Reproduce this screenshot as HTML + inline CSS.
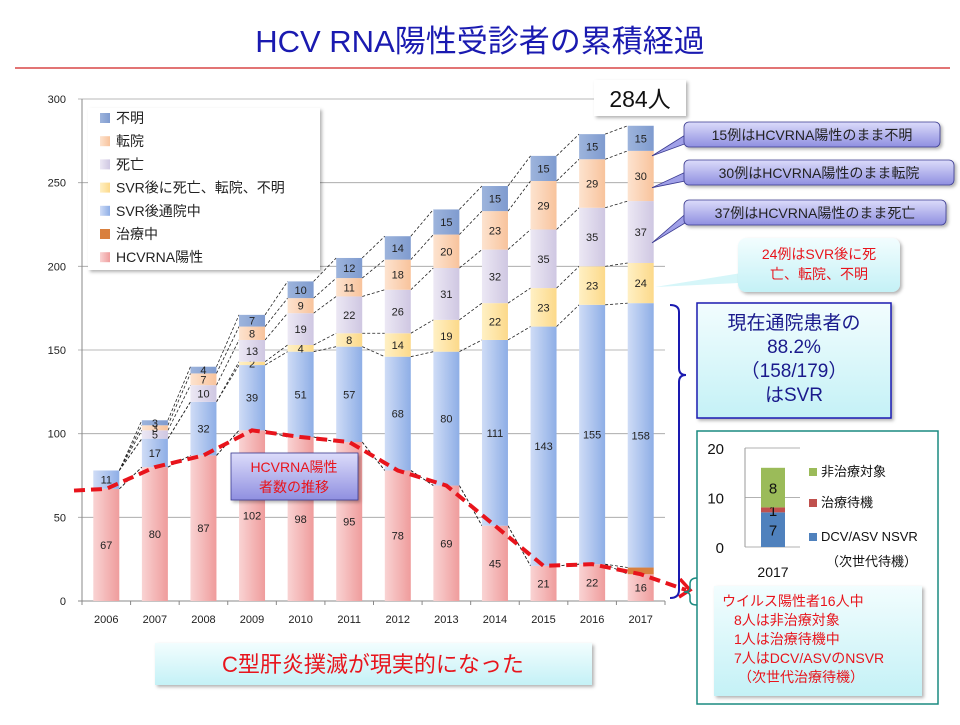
<!DOCTYPE html>
<html><head><meta charset="utf-8"><style>
body{margin:0;background:#fff;}
svg text{font-family:"Liberation Sans","Noto Sans CJK JP",sans-serif;}
</style></head><body>
<svg id="s" width="960" height="720" viewBox="0 0 960 720" xmlns="http://www.w3.org/2000/svg">
<defs>
<linearGradient id="gH" x1="0" x2="1"><stop offset="0" stop-color="#f9d3d3"/><stop offset="1" stop-color="#ef9c9c"/></linearGradient>
<linearGradient id="gS" x1="0" x2="1"><stop offset="0" stop-color="#cfdcf6"/><stop offset="1" stop-color="#8eaee6"/></linearGradient>
<linearGradient id="gY" x1="0" x2="1"><stop offset="0" stop-color="#fff0c4"/><stop offset="1" stop-color="#fcd98a"/></linearGradient>
<linearGradient id="gD" x1="0" x2="1"><stop offset="0" stop-color="#ece8f4"/><stop offset="1" stop-color="#cfc7e2"/></linearGradient>
<linearGradient id="gT" x1="0" x2="1"><stop offset="0" stop-color="#fde3cf"/><stop offset="1" stop-color="#f8c39c"/></linearGradient>
<linearGradient id="gU" x1="0" x2="1"><stop offset="0" stop-color="#9db4dc"/><stop offset="1" stop-color="#7f9bcf"/></linearGradient>
<linearGradient id="gP" x1="0" y1="0" x2="0" y2="1"><stop offset="0" stop-color="#dcdcfa"/><stop offset="1" stop-color="#8f8fe0"/></linearGradient>
<linearGradient id="gC" x1="0" y1="0" x2="0" y2="1"><stop offset="0" stop-color="#f2fdfe"/><stop offset="1" stop-color="#c4f1f6"/></linearGradient>
<filter id="sh" x="-10%" y="-10%" width="130%" height="140%"><feDropShadow dx="2" dy="2" stdDeviation="1.5" flood-opacity="0.3"/></filter>
</defs>
<text x="480" y="52" text-anchor="middle" font-size="31" fill="#1a1ab0">HCV RNA陽性受診者の累積経過</text>
<line x1="15" y1="68" x2="950" y2="68" stroke="#d02020" stroke-width="1.2"/>
<g id="chart"></g>
</svg>
<script>
const years=["2006","2007","2008","2009","2010","2011","2012","2013","2014","2015","2016","2017"];
const hcv=[67,80,87,102,98,95,78,69,45,21,22,16];
const treat=[0,0,0,0,0,0,0,0,0,0,0,4];
const svr=[11,17,32,39,51,57,68,80,111,143,155,158];
const svrOut=[0,0,0,2,4,8,14,19,22,23,23,24];
const death=[0,5,10,13,19,22,26,31,32,35,35,37];
const transfer=[0,3,7,8,9,11,18,20,23,29,29,30];
const unknown=[0,3,4,7,10,12,14,15,15,15,15,15];
const yTicks=[0,50,100,150,200,250,300];
const insetVals=[7,1,8];
const insetTicks=[0,10,20];

const NS="http://www.w3.org/2000/svg";
const svg=document.getElementById('s');
const chart=document.getElementById('chart');
function mk(tag,attrs,parent,txt){const e=document.createElementNS(NS,tag);for(const k in attrs)e.setAttribute(k,attrs[k]);if(txt!==undefined)e.textContent=txt;(parent||svg).appendChild(e);return e;}
const X0=82,X1=665,Y0=601,Y1=99;
const step=(X1-X0)/years.length;
const xc=i=>X0+step*(i+0.5);
const y=v=>Y0-(v/300)*(Y0-Y1);
const BW=26;

yTicks.forEach(t=>{
  if(t>0){const g=mk('line',{x1:X0-4,x2:X1,y1:y(t),y2:y(t),stroke:'#a0a0a0','stroke-width':0.8},chart);
  
  }
  const tl=mk('text',{x:66,y:y(t)+4,'text-anchor':'end','font-size':11,fill:'#222'},chart,t);
  
  
});
mk('line',{x1:X0,x2:X0,y1:Y1,y2:Y0,stroke:'#888'},chart);
const xa=mk('line',{x1:X0-4,x2:X1,y1:Y0,y2:Y0,stroke:'#888'},chart);


years.forEach((yr,i)=>{
  mk('line',{x1:X0+step*i,x2:X0+step*i,y1:Y0,y2:Y0+4,stroke:'#888'},chart);
  const t=mk('text',{x:xc(i),y:Y0+22,'text-anchor':'middle','font-size':11,fill:'#222'},chart,yr);
  
  
});
mk('line',{x1:X1,x2:X1,y1:Y0,y2:Y0+4,stroke:'#888'},chart);

const series=[
 {n:'hcvrna-positive',d:hcv,f:'url(#gH)'},
 {n:'in-treatment',d:treat,f:'#d9803e'},
 {n:'svr-outpatient',d:svr,f:'url(#gS)'},
 {n:'svr-then-out',d:svrOut,f:'url(#gY)'},
 {n:'death',d:death,f:'url(#gD)'},
 {n:'transfer',d:transfer,f:'url(#gT)'},
 {n:'unknown',d:unknown,f:'url(#gU)'}];
const cum=years.map(()=>0);
const bounds=[];
series.forEach(s=>{years.forEach((_,i)=>{cum[i]+=s.d[i];});bounds.push(cum.slice());});
bounds.forEach((b,k)=>{
  for(let i=0;i<years.length-1;i++){
    const l=mk('line',{x1:xc(i)+BW/2,y1:y(b[i]),x2:xc(i+1)-BW/2,y2:y(b[i+1]),stroke:'#222','stroke-width':0.8,'stroke-dasharray':'3,2'},chart);
    
    
  }
});
years.forEach((yr,i)=>{
  let base=0;
  series.forEach(s=>{
    const v=s.d[i];
    if(v>0){
      const r=mk('rect',{x:xc(i)-BW/2,y:y(base+v),width:BW,height:y(base)-y(base+v),fill:s.f},chart);
      
      
      if(s.n!=='in-treatment'){
        const t=mk('text',{x:xc(i),y:(y(base)+y(base+v))/2+4,'text-anchor':'middle','font-size':11,fill:'#222'},chart,v);
        
        
      }
    }
    base+=v;
  });
});
let pts=[[74,y(hcv[0]-1)]];
years.forEach((_,i)=>pts.push([xc(i),y(hcv[i])]));
pts.push([686,590]);
const pl=mk('polyline',{points:pts.map(p=>p.join(',')).join(' '),fill:'none',stroke:'#e8141c','stroke-width':4,'stroke-dasharray':'11,6'},chart);


const ar=mk('polyline',{points:'680,579 690,590 679,597',fill:'none',stroke:'#e8141c','stroke-width':3.5},chart);



const leg=mk('g',{},svg);


mk('rect',{x:88,y:108,width:232,height:162,fill:'#fff',filter:'url(#sh)'},leg);
const legItems=[['不明','url(#gU)'],['転院','url(#gT)'],['死亡','url(#gD)'],['SVR後に死亡、転院、不明','url(#gY)'],['SVR後通院中','url(#gS)'],['治療中','#d9803e'],['HCVRNA陽性','url(#gH)']];
legItems.forEach((it,k)=>{
  const cy=118+k*23.2;
  mk('rect',{x:100,y:cy-5,width:10,height:10,fill:it[1]},leg);
  const t=mk('text',{x:116,y:cy+5,'font-size':14,fill:'#222'},leg,it[0]);
  
  
});

mk('rect',{x:594,y:80,width:92,height:36,fill:'#fff',filter:'url(#sh)'},svg);
mk('text',{x:640,y:107,'text-anchor':'middle','font-size':23,fill:'#111'},svg,'284人');

const calls=[[684,122,256,'15例はHCVRNA陽性のまま不明',y(269)+5],[684,160,270,'30例はHCVRNA陽性のまま転院',y(247)],[684,200,262,'37例はHCVRNA陽性のまま死亡',y(214)]];
calls.forEach(c=>{
  const g=mk('g',{},svg);
  
  
  mk('polygon',{points:`${c[0]+6},${c[1]+10} 652,${c[4]} ${c[0]+6},${c[1]+20}`,fill:'#a0a0e8',stroke:'#3a3a90','stroke-width':0.8},g);
  mk('rect',{x:c[0],y:c[1],width:c[2],height:25,rx:5,fill:'url(#gP)',stroke:'#3a3a90','stroke-width':0.8,filter:'url(#sh)'},g);
  mk('text',{x:c[0]+c[2]/2,y:c[1]+18,'text-anchor':'middle','font-size':14,fill:'#222'},g,c[3]);
});
const cc=mk('g',{},svg);


mk('polygon',{points:'760,270 655,287 760,282',fill:'#d6f6f9'},cc);
mk('rect',{x:738,y:238,width:162,height:54,rx:8,fill:'url(#gC)',filter:'url(#sh)'},cc);
mk('text',{x:819,y:259,'text-anchor':'middle','font-size':14,fill:'#e8141c'},cc,'24例はSVR後に死');
mk('text',{x:819,y:279,'text-anchor':'middle','font-size':14,fill:'#e8141c'},cc,'亡、転院、不明');

mk('path',{d:'M670,305 Q679,305 679,312 L679,368 Q679,375 686,375 Q679,375 679,382 L679,590 Q679,598 670,598',fill:'none',stroke:'#1a1ab0','stroke-width':2},svg);
const cb=mk('g',{},svg);


mk('rect',{x:697,y:303,width:194,height:115,fill:'url(#gC)',stroke:'#1a1ab0','stroke-width':1.5,filter:'url(#sh)'},cb);
['現在通院患者の','88.2%','（158/179）','はSVR'].forEach((t,k)=>mk('text',{x:794,y:329+k*24,'text-anchor':'middle','font-size':19,fill:'#1a1a8c'},cb,t));

const ib=mk('g',{},svg);


mk('rect',{x:697,y:431,width:241,height:273,fill:'#fff',stroke:'#1a8a80','stroke-width':1.5},ib);
mk('path',{d:'M697,578 Q690,578 690,584 L690,588 Q690,592 684,592 Q690,592 690,596 L690,600 Q690,605 697,605',fill:'none',stroke:'#1a8a80','stroke-width':1.5},svg);
const iy=v=>547-v/20*99;
insetTicks.forEach(t=>{mk('line',{x1:745,x2:800,y1:iy(t),y2:iy(t),stroke:'#999','stroke-width':0.8},ib);mk('text',{x:724,y:iy(t)+6,'text-anchor':'end','font-size':15,fill:'#111'},ib,t);});
mk('line',{x1:745,x2:745,y1:iy(20),y2:iy(0),stroke:'#999'},ib);
const icol=['#4f81bd','#c0504d','#9bbb59'];
let ib0=0;
insetVals.forEach((v,k)=>{
  const r=mk('rect',{x:761,y:iy(ib0+v),width:24,height:iy(ib0)-iy(ib0+v),fill:icol[k]},ib);
  
  
  mk('text',{x:773,y:(iy(ib0)+iy(ib0+v))/2+6,'text-anchor':'middle','font-size':15,fill:'#111'},ib,v);
  ib0+=v;
});
mk('text',{x:773,y:577,'text-anchor':'middle','font-size':14,fill:'#111'},ib,'2017');
[['非治療対象',476,'#9bbb59'],['治療待機',507,'#c0504d'],['DCV/ASV NSVR',541,'#4f81bd']].forEach(l=>{
  mk('rect',{x:809,y:l[1]-8,width:8,height:8,fill:l[2]},ib);
  mk('text',{x:821,y:l[1],'font-size':13,fill:'#111'},ib,l[0]);
});
mk('text',{x:826,y:566,'font-size':13,fill:'#111'},ib,'（次世代待機）');
mk('rect',{x:714,y:586,width:208,height:110,fill:'url(#gC)',filter:'url(#sh)'},ib);
[['ウイルス陽性者16人中',722],['8人は非治療対象',734],['1人は治療待機中',734],['7人はDCV/ASVのNSVR',734],['（次世代治療待機）',738]].forEach((t,k)=>mk('text',{x:t[1],y:606+k*19,'font-size':14,fill:'#e8141c'},ib,t[0]));

const hb=mk('g',{},svg);


mk('rect',{x:231,y:453,width:127,height:47,fill:'url(#gP)',stroke:'#3a3a90','stroke-width':0.8,filter:'url(#sh)'},hb);
mk('text',{x:294,y:472,'text-anchor':'middle','font-size':14,fill:'#e8141c'},hb,'HCVRNA陽性');
mk('text',{x:294,y:492,'text-anchor':'middle','font-size':14,fill:'#e8141c'},hb,'者数の推移');

const bb=mk('g',{},svg);


mk('rect',{x:155,y:643,width:437,height:42,fill:'url(#gC)',filter:'url(#sh)'},bb);
mk('text',{x:373,y:672,'text-anchor':'middle','font-size':22,fill:'#e8141c'},bb,'C型肝炎撲滅が現実的になった');
</script>
</body></html>
